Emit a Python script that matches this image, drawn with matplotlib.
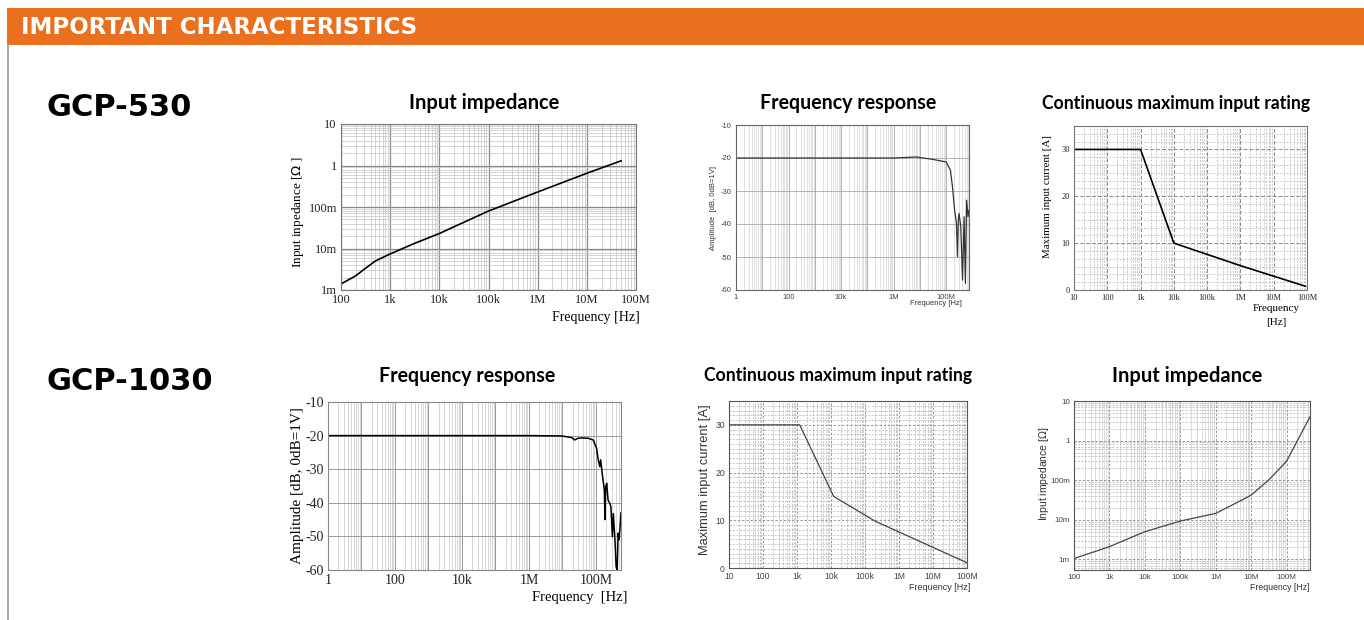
import matplotlib
matplotlib.use("Agg")
import matplotlib.pyplot as plt
import numpy as np
from matplotlib.lines import Line2D
from matplotlib.patches import Rectangle
from matplotlib.ticker import FixedLocator, LogLocator, MultipleLocator, NullFormatter

plt.rcParams["axes.unicode_minus"] = False

# ---- data ----
# GCP-530
z530_freq = [100, 200, 300, 500, 1e3, 3e3, 1e4, 1e5, 1e6, 1e7, 5e7]
z530_ohm = [1.4e-3, 2.2e-3, 3.2e-3, 5.0e-3, 7.4e-3, 13e-3, 23e-3, 80e-3, 0.23, 0.65, 1.3]

fr530_freq = [1, 1e3, 1e6, 7.4e6, 3e7, 1.0e8, 1.45e8, 1.74e8, 2.1e8, 2.46e8, 2.7e8,
              2.9e8, 3.1e8, 3.6e8, 4.2e8, 4.8e8, 5.4e8, 6.0e8, 6.8e8, 7.4e8]
fr530_db = [-20, -20, -20, -19.7, -20.4, -21.2, -23.7, -28.8, -35.8, -39.8, -49.9,
            -38.8, -36.8, -40.8, -57, -37.8, -58, -32.8, -37.8, -35.8]

mr530_freq = [10, 1e3, 1e4, 1e6, 9e7]
mr530_amp = [30, 30, 10, 5.2, 0.8]

# GCP-1030
fr1030_freq = [1, 1e3, 1e6, 9.3e6, 1.9e7, 2.3e7, 2.9e7, 3.7e7, 5.9e7, 8.3e7, 1.05e8,
               1.17e8, 1.3e8, 1.38e8, 1.58e8, 1.78e8, 1.86e8, 1.95e8, 2.1e8, 2.3e8,
               2.6e8, 2.8e8, 3.1e8, 3.3e8, 3.7e8, 4.0e8, 4.3e8, 4.6e8, 4.9e8, 5.2e8, 5.6e8]
fr1030_db = [-20, -20, -20, -20.1, -20.6, -21.3, -20.8, -20.7, -20.8, -21.3, -23.8,
             -27.2, -29.2, -27.2, -32.2, -36.2, -45, -35.2, -34.2, -39.2,
             -40.2, -41.2, -50.1, -43.2, -51.1, -59, -60, -49, -51, -48, -43]

mr1030_freq = [10, 1.2e3, 1.2e4, 2e5, 1e8]
mr1030_amp = [30, 30, 15, 9.8, 1.1]

z1030_freq = [100, 1e3, 1e4, 1e5, 1e6, 5.3e6, 1e7, 3.1e7, 1e8, 4.6e8]
z1030_ohm = [1.05e-3, 2.1e-3, 5e-3, 9.3e-3, 14.5e-3, 31e-3, 42e-3, 100e-3, 0.3, 4.0]

# tick labels
z530_xlabels = ["100", "1k", "10k", "100k", "1M", "10M", "100M"]
z_ylabels = ["1m", "10m", "100m", "1", "10"]
fr_xlabels = ["1", "", "100", "", "10k", "", "1M", "", "100M"]
fr_yticks = [-60, -50, -40, -30, -20, -10]
mr_xlabels = ["10", "100", "1k", "10k", "100k", "1M", "10M", "100M"]
mr_yticks = [0, 10, 20, 30]
z1030_xlabels = ["100", "1k", "10k", "100k", "1M", "10M", "100M"]

W, H = 1364, 620
SERIF = "Liberation Serif"
SANS = "Liberation Sans"
TITLE = "Lato"
HEAD = "DejaVu Sans"


def px_rect(x0, y0, x1, y1):
    return [x0/W, 1 - y1/H, (x1 - x0)/W, (y1 - y0)/H]


def px(x, y):
    return x/W, 1 - y/H


def log_ticks(axis, start_exp, labels, step=1):
    ticks = [10.0**(start_exp + i*step) for i in range(len(labels))]
    axis.set_major_locator(FixedLocator(ticks))
    axis.set_ticklabels(labels)
    axis.set_minor_locator(LogLocator(base=10, subs=np.arange(2, 10), numticks=40))
    axis.set_minor_formatter(NullFormatter())


def style(ax, family, size, color, spine="#777777"):
    for s in ax.spines.values():
        s.set_color(spine)
        s.set_linewidth(0.8)
    ax.tick_params(which="both", length=0, pad=3, labelsize=size,
                   labelcolor=color, labelfontfamily=family)
    ax.set_axisbelow(True)


fig = plt.figure(figsize=(W/100, H/100), dpi=100)

# header band and left frame line
fig.add_artist(Rectangle(px(7, 45), 1357/W, 37/H, transform=fig.transFigure,
                         facecolor="#EA7020", edgecolor="none"))
fig.add_artist(Line2D([7.5/W, 7.5/W], [0, 1 - 45/H], transform=fig.transFigure,
                      color="#9a9a9a", lw=1.2))
fig.text(*px(21, 28), "IMPORTANT CHARACTERISTICS", color="white", fontsize=16.5,
         fontweight="bold", family=HEAD, va="center", ha="left")
fig.text(*px(46, 108), "GCP-530", fontsize=22, fontweight="bold", family=HEAD,
         va="center", ha="left")
fig.text(*px(46, 382), "GCP-1030", fontsize=22, fontweight="bold", family=HEAD,
         va="center", ha="left")

titles = [(484, 103, "Input impedance", 14.5), (848, 103, "Frequency response", 14.1),
          (1176, 103, "Continuous maximum input rating", 12.7),
          (467, 376, "Frequency response", 14.1),
          (838, 376, "Continuous maximum input rating", 12.7),
          (1187, 376, "Input impedance", 14.5)]
for x, y, t, fs in titles:
    fig.text(*px(x, y), t, fontsize=fs, fontweight="bold", family=TITLE,
             ha="center", va="center")

# ---- GCP-530 input impedance ----
ax1 = fig.add_axes(px_rect(341, 124, 636, 290))
ax1.plot(z530_freq, z530_ohm, color="black", lw=1.2)
ax1.set_xscale("log")
ax1.set_yscale("log")
ax1.set_xlim(1e2, 1e8)
ax1.set_ylim(1e-3, 10)
log_ticks(ax1.xaxis, 2, z530_xlabels)
log_ticks(ax1.yaxis, -3, z_ylabels)
ax1.grid(which="major", color="#8a8a8a", lw=0.9)
ax1.grid(which="minor", color="#c4c4c4", lw=0.5)
style(ax1, SERIF, 9, "#222222", "#777777")
ax1.set_ylabel("Input inpedance [$\\Omega$ ]", family=SERIF, fontsize=9.5)
ax1.yaxis.set_label_coords(-0.12, 0.47)
fig.text(*px(640, 318), "Frequency [Hz]", family=SERIF, fontsize=10, ha="right", va="center")

# ---- GCP-530 frequency response ----
ax2 = fig.add_axes(px_rect(736, 125, 969, 290))
ax2.plot(fr530_freq, fr530_db, color="#333333", lw=0.9)
ax2.set_xscale("log")
ax2.set_xlim(1, 7.4e8)
ax2.set_ylim(-60, -10)
log_ticks(ax2.xaxis, 0, fr_xlabels)
ax2.set_yticks(fr_yticks)
ax2.grid(which="major", color="#a8a8a8", lw=0.6)
ax2.grid(which="minor", axis="x", color="#d4d4d4", lw=0.5)
style(ax2, SANS, 5.5, "#444444", "#666666")
ax2.set_ylabel("Amplitude  [dB, 0dB=1V]", family=SANS, fontsize=5.5, labelpad=3, color="#333333")
fig.text(*px(962, 303), "Frequency [Hz]", family=SANS, fontsize=5.5, ha="right",
         va="center", color="#333333")

# ---- GCP-530 continuous maximum input rating ----
ax3 = fig.add_axes(px_rect(1074, 126, 1307, 290))
ax3.plot(mr530_freq, mr530_amp, color="black", lw=1.2)
ax3.set_xscale("log")
ax3.set_xlim(10, 1e8)
ax3.set_ylim(0, 35)
log_ticks(ax3.xaxis, 1, mr_xlabels)
ax3.set_yticks(mr_yticks)
ax3.yaxis.set_minor_locator(MultipleLocator(10/6))
ax3.grid(which="major", color="#8a8a8a", lw=0.7, ls=(0, (4, 2)))
ax3.grid(which="minor", color="#b8b8b8", lw=0.5, ls=(0, (3, 2)))
style(ax3, SERIF, 6, "#222222", "#777777")
ax3.set_ylabel("Maximum input current [A]", family=SERIF, fontsize=7.8)
ax3.yaxis.set_label_coords(-0.095, 0.57)
fig.text(*px(1276, 308), "Frequency", family=SERIF, fontsize=8, ha="center", va="center")
fig.text(*px(1276, 322), "[Hz]", family=SERIF, fontsize=8, ha="center", va="center")

# ---- GCP-1030 frequency response ----
ax4 = fig.add_axes(px_rect(328, 402, 621, 570))
ax4.plot(fr1030_freq, fr1030_db, color="black", lw=1.1)
ax4.set_xscale("log")
ax4.set_xlim(1, 5.6e8)
ax4.set_ylim(-60, -10)
log_ticks(ax4.xaxis, 0, fr_xlabels)
ax4.set_yticks(fr_yticks)
ax4.grid(which="major", color="#9a9a9a", lw=0.7)
ax4.grid(which="minor", axis="x", color="#c8c8c8", lw=0.5)
style(ax4, SERIF, 10, "#222222", "#888888")
ax4.set_ylabel("Amplitude [dB, 0dB=1V]", family=SERIF, fontsize=11, labelpad=1)
fig.text(*px(628, 597), "Frequency  [Hz]", family=SERIF, fontsize=10.5, ha="right", va="center")

# ---- GCP-1030 continuous maximum input rating ----
ax5 = fig.add_axes(px_rect(729, 401, 967, 568))
ax5.plot(mr1030_freq, mr1030_amp, color="#444444", lw=0.9)
ax5.set_xscale("log")
ax5.set_xlim(10, 1e8)
ax5.set_ylim(0, 35)
log_ticks(ax5.xaxis, 1, mr_xlabels)
ax5.set_yticks(mr_yticks)
ax5.yaxis.set_minor_locator(MultipleLocator(1))
ax5.grid(which="major", color="#8a8a8a", lw=0.6, ls=(0, (3, 2)))
ax5.grid(which="minor", color="#b0b0b0", lw=0.5, ls=(0, (3, 2)))
style(ax5, SANS, 6.2, "#444444", "#555555")
ax5.set_ylabel("Maximum input current [A]", family=SANS, fontsize=9.3, color="#333333")
ax5.yaxis.set_label_coords(-0.076, 0.53)
fig.text(*px(970, 588), "Frequency [Hz]", family=SANS, fontsize=6.5, ha="right",
         va="center", color="#333333")

# ---- GCP-1030 input impedance ----
ax6 = fig.add_axes(px_rect(1074, 401, 1310, 570))
ax6.plot(z1030_freq, z1030_ohm, color="#444444", lw=0.9)
ax6.set_xscale("log")
ax6.set_yscale("log")
ax6.set_xlim(100, 4.6e8)
ax6.set_ylim(5.4e-4, 10)
log_ticks(ax6.xaxis, 2, z1030_xlabels)
log_ticks(ax6.yaxis, -3, z_ylabels)
ax6.grid(which="major", color="#8a8a8a", lw=0.6, ls=(0, (3, 2)))
ax6.grid(which="minor", axis="y", color="#b0b0b0", lw=0.5, ls=(0, (3, 2)))
ax6.grid(which="minor", axis="x", color="#cfcfcf", lw=0.5)
style(ax6, SANS, 5.8, "#444444", "#555555")
ax6.set_ylabel("Input impedance [$\\Omega$]", family=SANS, fontsize=7.5, color="#333333")
ax6.yaxis.set_label_coords(-0.097, 0.57)
fig.text(*px(1310, 588), "Frequency [Hz]", family=SANS, fontsize=6.3, ha="right",
         va="center", color="#333333")

fig.savefig("out.png", dpi=100)
